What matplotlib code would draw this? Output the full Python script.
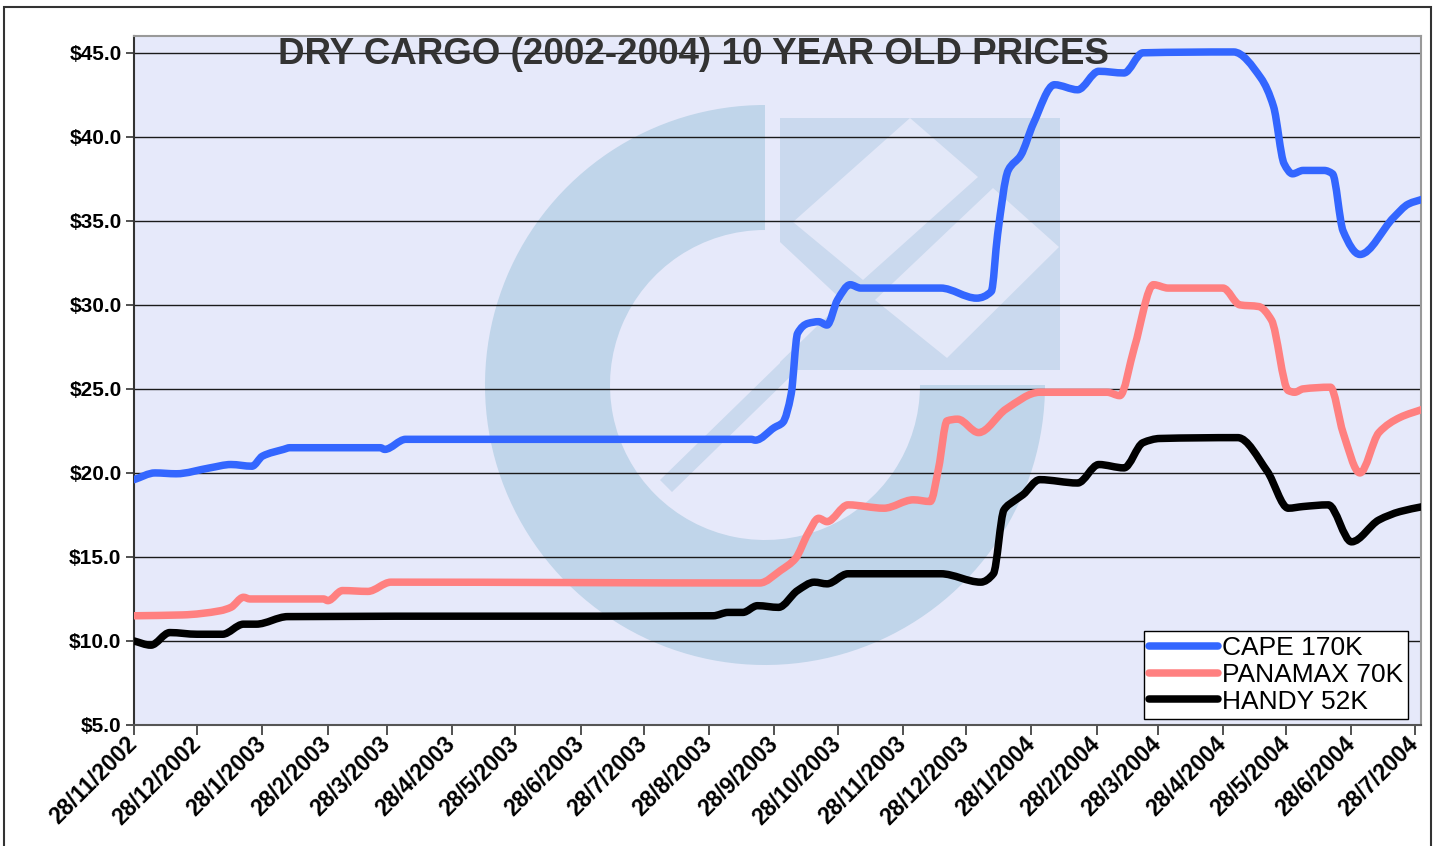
import numpy as np
import matplotlib
matplotlib.use("Agg")
import matplotlib.pyplot as plt
import matplotlib.dates as mdates
from matplotlib.patches import Rectangle, Wedge, Polygon, PathPatch
from matplotlib.path import Path
from matplotlib.lines import Line2D

plt.rcParams['font.family'] = ['Liberation Sans', 'DejaVu Sans']

# days since 28/11/2002
start = np.datetime64('2002-11-28')

cape_days = [0, 10, 20, 36, 46, 56, 61, 71, 74, 117, 119, 129, 293, 295, 304, 308, 312, 315, 320, 325,
             329, 334, 340, 345, 383, 400, 407, 410, 415, 421, 427, 437, 448, 458, 470, 479, 522, 535,
             541, 546, 550, 555, 565, 569, 574, 582, 598, 605, 612]
cape = [19.6, 20.0, 19.95, 20.3, 20.5, 20.4, 21.0, 21.4, 21.5, 21.5, 21.4, 22.0, 22.0, 21.95, 22.7, 23.0,
        24.7, 28.3, 28.9, 29.0, 28.8, 30.3, 31.2, 31.0, 31.0, 30.4, 30.8, 34.2, 38.0, 38.9, 40.8, 43.1,
        42.8, 43.9, 43.8, 45.0, 45.05, 43.5, 41.8, 38.4, 37.8, 38.0, 38.0, 37.8, 34.4, 33.0, 35.2, 36.0, 36.3]

panamax_days = [0, 23, 41, 46, 52, 55, 90, 92, 99, 111, 122, 297, 307, 314, 320, 325, 329, 339, 356, 370,
                378, 382, 386, 391, 401, 414, 430, 462, 468, 475, 484, 491, 517, 525, 534, 540, 548, 551,
                555, 568, 574, 582, 591, 601, 612]
panamax = [11.5, 11.55, 11.8, 12.0, 12.6, 12.5, 12.5, 12.4, 13.0, 12.95, 13.5, 13.45, 14.2, 14.9, 16.4,
           17.3, 17.1, 18.1, 17.9, 18.4, 18.3, 20.3, 23.1, 23.2, 22.4, 23.8, 24.8, 24.8, 24.6, 27.5, 31.2,
           31.0, 31.0, 30.0, 29.9, 29.1, 24.9, 24.8, 25.0, 25.1, 22.4, 20.0, 22.4, 23.3, 23.8]

handy_days = [0, 8, 17, 30, 42, 52, 58, 73, 275, 282, 289, 296, 306, 315, 323, 329, 339, 383, 402, 408,
              413, 418, 422, 430, 448, 458, 470, 479, 487, 524, 538, 548, 555, 567, 578, 591, 601, 612]
handy = [10.0, 9.75, 10.5, 10.4, 10.4, 11.0, 11.0, 11.45, 11.5, 11.7, 11.7, 12.1, 12.0, 13.0, 13.5, 13.4,
         14.0, 14.0, 13.5, 14.0, 17.8, 18.35, 18.7, 19.6, 19.4, 20.5, 20.3, 21.8, 22.05, 22.1, 20.1, 17.9,
         18.0, 18.1, 15.9, 17.2, 17.7, 18.0]

series_names = ['CAPE 170K', 'PANAMAX 70K', 'HANDY 52K']
series_colors = ['#3366FF', '#FF8080', '#000000']

tick_dates = ['2002-11-28', '2002-12-28', '2003-01-28', '2003-02-28', '2003-03-28', '2003-04-28',
              '2003-05-28', '2003-06-28', '2003-07-28', '2003-08-28', '2003-09-28', '2003-10-28',
              '2003-11-28', '2003-12-28', '2004-01-28', '2004-02-28', '2004-03-28', '2004-04-28',
              '2004-05-28', '2004-06-28', '2004-07-28']
tick_labels = ['28/11/2002', '28/12/2002', '28/1/2003', '28/2/2003', '28/3/2003', '28/4/2003',
               '28/5/2003', '28/6/2003', '28/7/2003', '28/8/2003', '28/9/2003', '28/10/2003',
               '28/11/2003', '28/12/2003', '28/1/2004', '28/2/2004', '28/3/2004', '28/4/2004',
               '28/5/2004', '28/6/2004', '28/7/2004']
y_ticks = [5, 10, 15, 20, 25, 30, 35, 40, 45]


def smooth_path(x, y):
    # smoothed line: cubic bezier segments through the data points (monotone tangents)
    h = np.diff(x)
    d = np.diff(y) / h
    m = np.zeros(len(x))
    m[0], m[-1] = d[0], d[-1]
    for k in range(1, len(x) - 1):
        if d[k - 1] * d[k] > 0:
            w1 = 2 * h[k] + h[k - 1]
            w2 = h[k] + 2 * h[k - 1]
            m[k] = (w1 + w2) / (w1 / d[k - 1] + w2 / d[k])
    verts = [(x[0], y[0])]
    codes = [Path.MOVETO]
    for k in range(len(x) - 1):
        verts += [(x[k] + h[k] / 3, y[k] + m[k] * h[k] / 3),
                  (x[k + 1] - h[k] / 3, y[k + 1] - m[k + 1] * h[k] / 3),
                  (x[k + 1], y[k + 1])]
        codes += [Path.CURVE4] * 3
    return Path(verts, codes)


W, H = 1439, 846
fig = plt.figure(figsize=(W / 100, H / 100), dpi=100)
fig.patch.set_facecolor('white')

# background layer in pixel coords: plot area colour + faint watermark logo
bg = fig.add_axes([0, 0, 1, 1], zorder=0)
bg.set_xlim(0, W)
bg.set_ylim(H, 0)
bg.axis('off')
bg_col = '#E6E9FA'
bg.add_patch(Rectangle((134, 36), 1421 - 134, 725 - 36, facecolor=bg_col, edgecolor='none'))
ring_col = '#C0D5EA'
sq_col = '#CAD9EE'
light = '#E3E8F8'
bg.add_patch(Wedge((765, 385), 280, 0, 270, width=125, facecolor=ring_col, edgecolor='none'))
bg.add_patch(Rectangle((780, 118), 280, 252, facecolor=sq_col, edgecolor='none'))
bg.add_patch(Polygon([(660, 480), (672, 492), (873, 296), (861, 284)], facecolor=sq_col, edgecolor='none'))
bg.add_patch(Polygon([(793, 222), (910, 118), (978, 177), (863, 280)], facecolor=light, edgecolor='none'))
bg.add_patch(Polygon([(875, 300), (993, 188), (1059, 247), (947, 358)], facecolor=light, edgecolor='none'))
bg.add_patch(Polygon([(780, 242), (843, 301), (778, 364)], facecolor=bg_col, edgecolor='none'))

# outer border of the chart object
fig.add_artist(Rectangle((4 / W, -0.02), (1431 - 4) / W, 1.02 - 7 / H, transform=fig.transFigure,
                         fill=False, edgecolor='#333333', linewidth=1.5))

ax = fig.add_axes([134 / W, 1 - 725 / H, (1421 - 134) / W, (725 - 36) / H], zorder=1)
ax.patch.set_visible(False)

handles = []
for days, vals, name, col in zip([cape_days, panamax_days, handy_days], [cape, panamax, handy],
                                 series_names, series_colors):
    x = mdates.date2num(start + np.array(days).astype('timedelta64[D]'))
    ax.add_patch(PathPatch(smooth_path(x, np.array(vals, dtype=float)), fill=False, edgecolor=col,
                           linewidth=5.4, capstyle='round', joinstyle='round', zorder=3))
    handles.append(Line2D([], [], color=col, linewidth=5.4, solid_capstyle='round', label=name))

ax.set_ylim(5, 46.0)
ax.set_xlim(mdates.date2num(start), mdates.date2num(start + np.timedelta64(611, 'D')))
ax.set_yticks(y_ticks)
ax.set_yticklabels([f'${v:.1f}' for v in y_ticks], fontsize=15, fontweight='bold')
for v in y_ticks[1:]:
    ax.axhline(v, color='#1a1a1a', linewidth=1.0, zorder=2)

tick_pos = [mdates.date2num(np.datetime64(d)) for d in tick_dates]
ax.set_xticks(tick_pos)
ax.set_xticklabels(tick_labels, fontsize=16.5, fontweight='bold', rotation=45, ha='right',
                   rotation_mode='anchor', va='center')
ax.tick_params(axis='x', direction='out', length=7, width=1.2, color='#333333', pad=4)
ax.tick_params(axis='y', direction='out', length=6, width=1.2, color='#333333', pad=3)

ax.spines['left'].set_color('#333333')
ax.spines['bottom'].set_color('#555555')
ax.spines['top'].set_color('#999999')
ax.spines['right'].set_color('#999999')
for s in ax.spines.values():
    s.set_linewidth(1.5)

fig.text(693 / W, 1 - 64 / H, 'DRY CARGO (2002-2004) 10 YEAR OLD PRICES', ha='center', va='baseline',
         fontsize=26.5, fontweight='bold', color='#333333', zorder=5)

leg = ax.legend(handles=handles, loc='lower right', bbox_to_anchor=(1408 / W, 1 - 719 / H),
                bbox_transform=fig.transFigure, borderaxespad=0, fontsize=19, frameon=True,
                fancybox=False, framealpha=1, edgecolor='black', handlelength=2.6,
                handletextpad=0.15, labelspacing=0.1, borderpad=0.2)
leg.get_frame().set_linewidth(1.0)
leg.set_zorder(6)

fig.savefig('out.png', dpi=100)
